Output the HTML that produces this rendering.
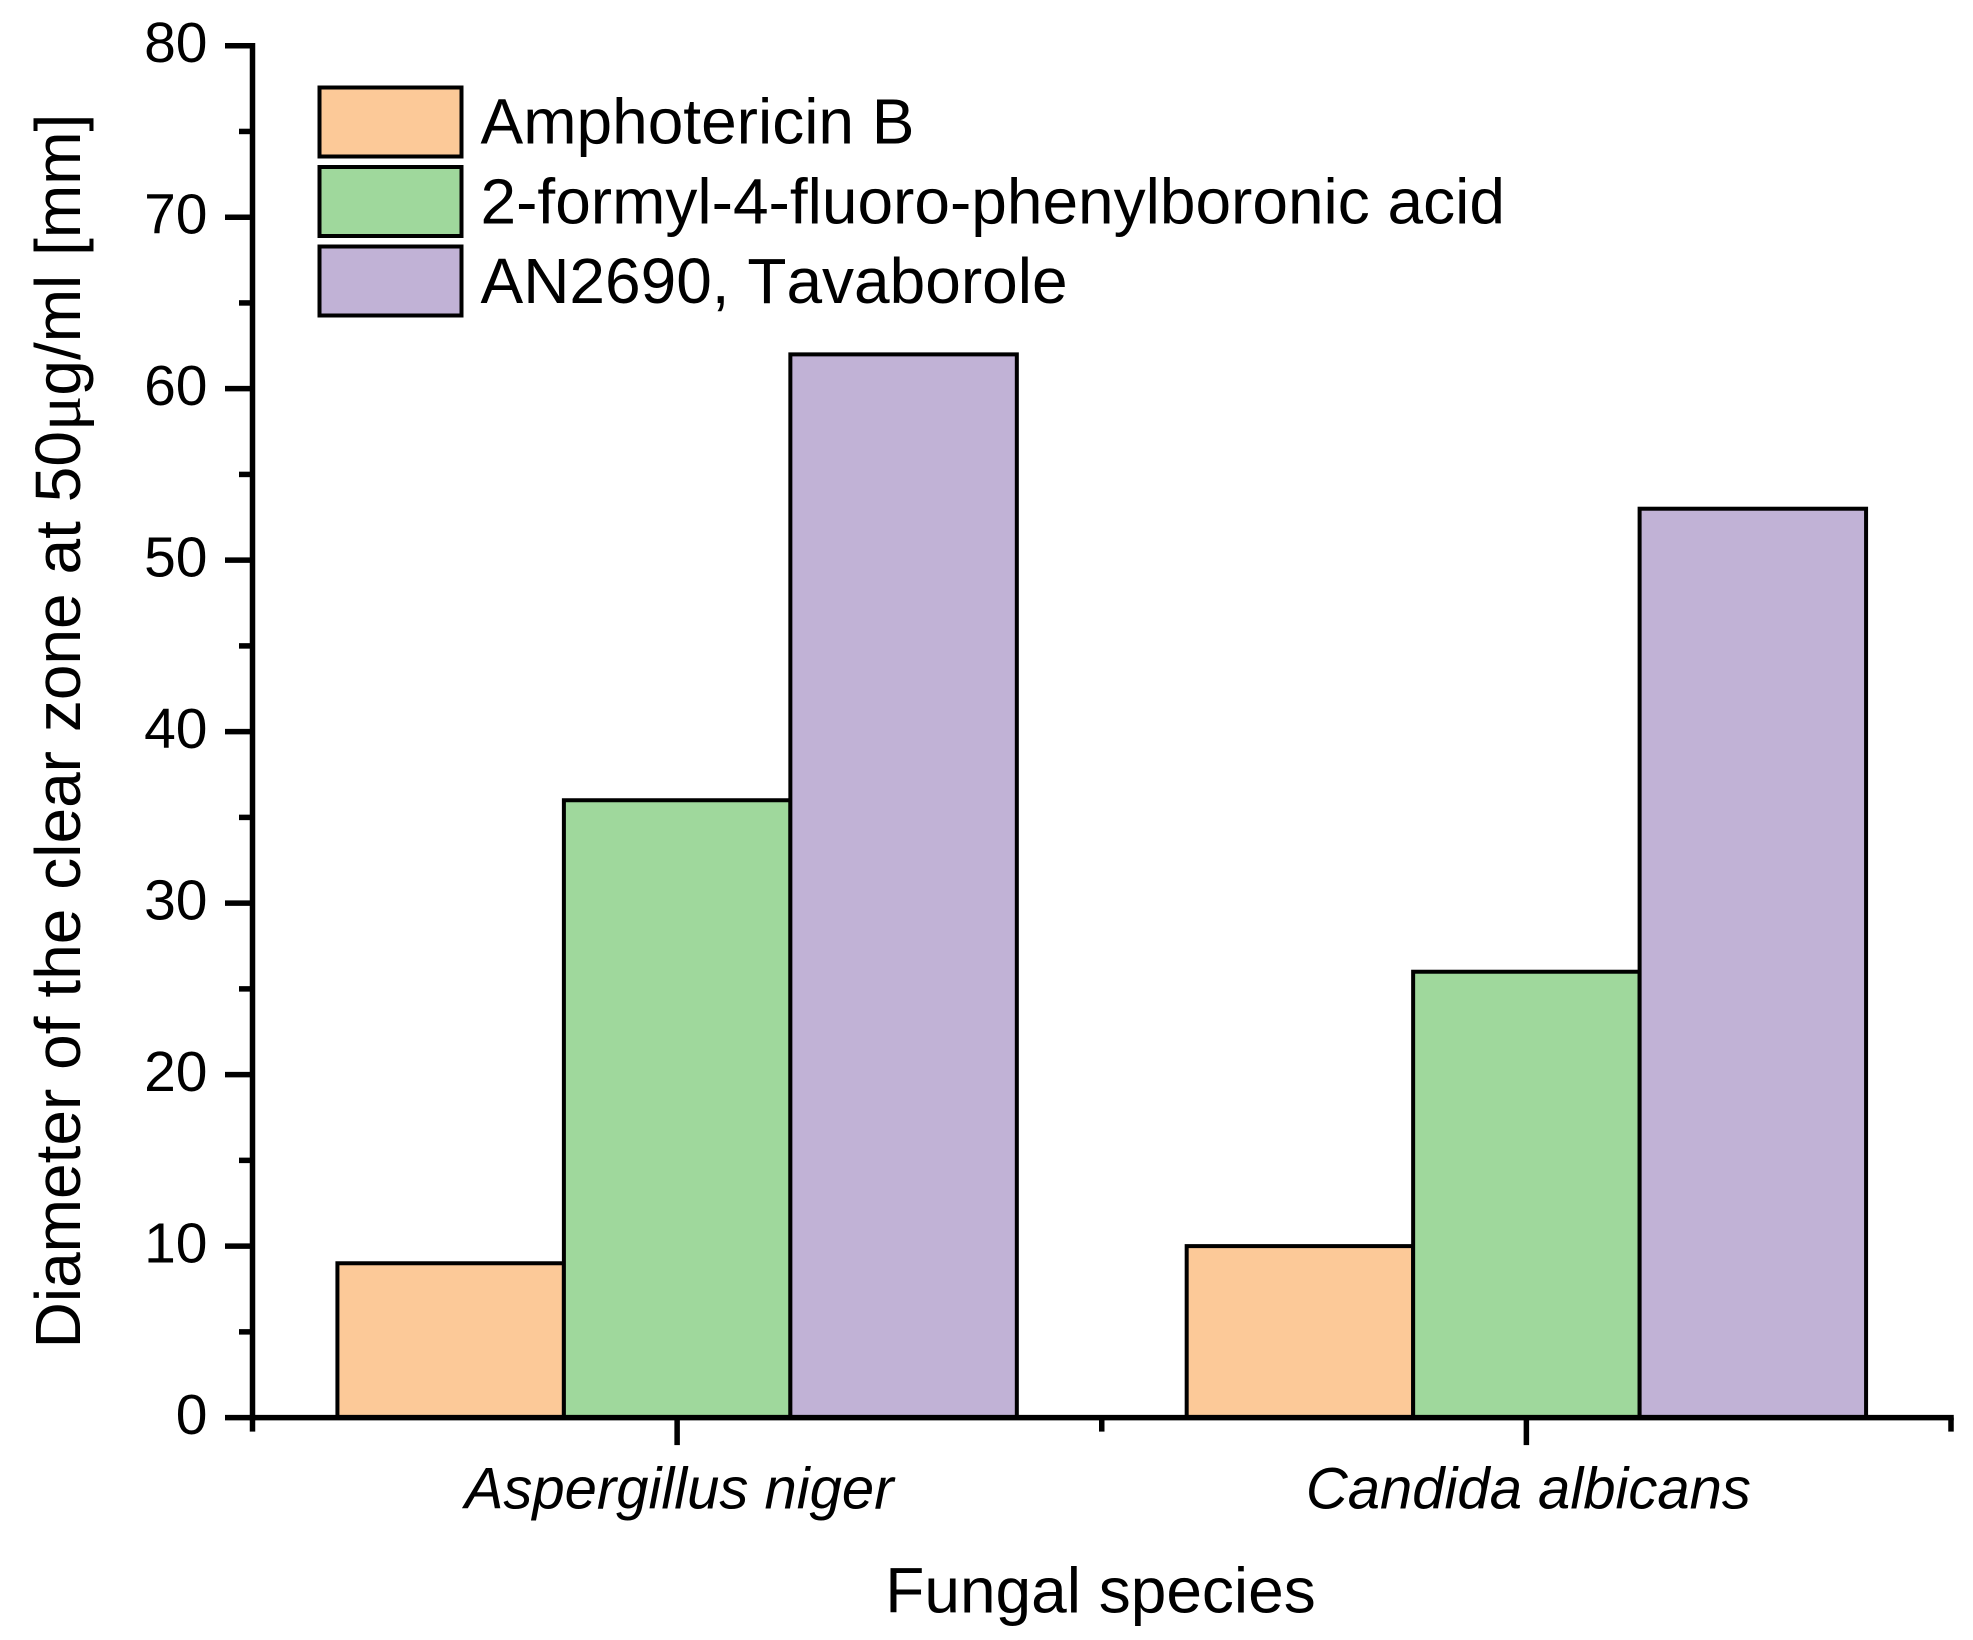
<!DOCTYPE html>
<html lang="en">
<head>
<meta charset="utf-8">
<title>Diameter of the clear zone by fungal species</title>
<style>
html,body{margin:0;padding:0;background:#fff;}
svg{display:block;}
text{font-family:"Liberation Sans",Arial,sans-serif;fill:#000;font-kerning:none;}
</style>
</head>
<body>
<svg id="chart" xmlns="http://www.w3.org/2000/svg" width="1973" height="1640" viewBox="0 0 1973 1640">
  <rect x="0" y="0" width="1973" height="1640" fill="#fff"/>
  <g id="bars"></g>
  <g id="axes"></g>
  <text transform="translate(80,731) rotate(-90)" text-anchor="middle" font-size="64" word-spacing="1.1">Diameter of the clear zone at 50<tspan font-family="'Liberation Serif',serif" font-size="66">μ</tspan>g/ml [mm]</text>
  <text x="1100.5" y="1612.5" text-anchor="middle" font-size="64">Fungal species</text>
  <g id="legend"></g>
</svg>
<script>
const categories = ["Aspergillus niger", "Candida albicans"];
const seriesNames = ["Amphotericin B", "2-formyl-4-fluoro-phenylboronic acid", "AN2690, Tavaborole"];
const amphotericin = [9, 10];
const formylFluoro = [36, 26];
const tavaborole = [62, 53];
const yTickLabels = [0, 10, 20, 30, 40, 50, 60, 70, 80];
const yMinorTicks = [5, 15, 25, 35, 45, 55, 65, 75];
const seriesColors = ["#FCC998", "#9FD89C", "#C1B2D6"];

const NS = "http://www.w3.org/2000/svg";
const seriesValues = [amphotericin, formylFluoro, tavaborole];
const plot = {left: 252.5, right: 1951, top: 45.7, bottom: 1417.6};
const yMin = yTickLabels[0];
const yMax = yTickLabels[yTickLabels.length - 1];
const barFraction = 0.8;

function yScale(v) {
  return plot.bottom - (v - yMin) / (yMax - yMin) * (plot.bottom - plot.top);
}
function xScale(c) {
  return plot.left + (c + 0.5) / categories.length * (plot.right - plot.left);
}
function make(tag, attrs, parent) {
  const el = document.createElementNS(NS, tag);
  for (const k in attrs) el.setAttribute(k, attrs[k]);
  parent.appendChild(el);
  return el;
}

const barsG = document.getElementById("bars");
const axesG = document.getElementById("axes");
const legendG = document.getElementById("legend");
const groupW = (plot.right - plot.left) / categories.length * barFraction;
const barW = groupW / seriesValues.length;

seriesValues.forEach(function (vals, s) {
  vals.forEach(function (v, c) {
    const x = xScale(c) - groupW / 2 + s * barW;
    const y = yScale(v);
    const r = make("rect", {x: x, y: y, width: barW, height: yScale(0) - y, fill: seriesColors[s], stroke: "#000", "stroke-width": 4}, barsG);
    
    
  });
});

const axisW = 5.5;
const yAxisLine = make("line", {x1: plot.left, x2: plot.left, y1: plot.top - axisW / 2, y2: plot.bottom + axisW / 2, stroke: "#000", "stroke-width": axisW}, axesG);


const xAxisLine = make("line", {x1: plot.left - axisW / 2, x2: plot.right + axisW / 2, y1: plot.bottom, y2: plot.bottom, stroke: "#000", "stroke-width": axisW}, axesG);



yTickLabels.forEach(function (v) {
  const y = yScale(v);
  const t = make("line", {x1: plot.left - 27.5, x2: plot.left, y1: y, y2: y, stroke: "#000", "stroke-width": axisW}, axesG);
  
  
  const l = make("text", {x: 207.5, y: y + 16.5, "text-anchor": "end", "font-size": 57}, axesG);
  l.textContent = v;
  
  
});
yMinorTicks.forEach(function (v) {
  const y = yScale(v);
  const t = make("line", {x1: plot.left - 13.5, x2: plot.left, y1: y, y2: y, stroke: "#000", "stroke-width": axisW}, axesG);
  
  
});

categories.forEach(function (name, c) {
  const x = xScale(c);
  const t = make("line", {x1: x, x2: x, y1: plot.bottom, y2: plot.bottom + 27.5, stroke: "#000", "stroke-width": axisW}, axesG);
  
  
  const l = make("text", {x: x + 2, y: 1508.5, "text-anchor": "middle", "font-size": 58, "font-style": "italic"}, axesG);
  l.textContent = name;
  
  
});
for (let i = 0; i <= categories.length; i++) {
  const x = plot.left + i / categories.length * (plot.right - plot.left);
  const t = make("line", {x1: x, x2: x, y1: plot.bottom, y2: plot.bottom + 14, stroke: "#000", "stroke-width": axisW}, axesG);
  
  
}

seriesNames.forEach(function (name, i) {
  const y = 87.5 + i * 79.5;
  const r = make("rect", {x: 319.5, y: y, width: 142, height: 69, fill: seriesColors[i], stroke: "#000", "stroke-width": 4}, legendG);
  
  
  const l = make("text", {x: 480.5, y: 143.7 + i * 79.7, "font-size": 64}, legendG);
  l.textContent = name;
  
  
});
</script>
</body>
</html>
